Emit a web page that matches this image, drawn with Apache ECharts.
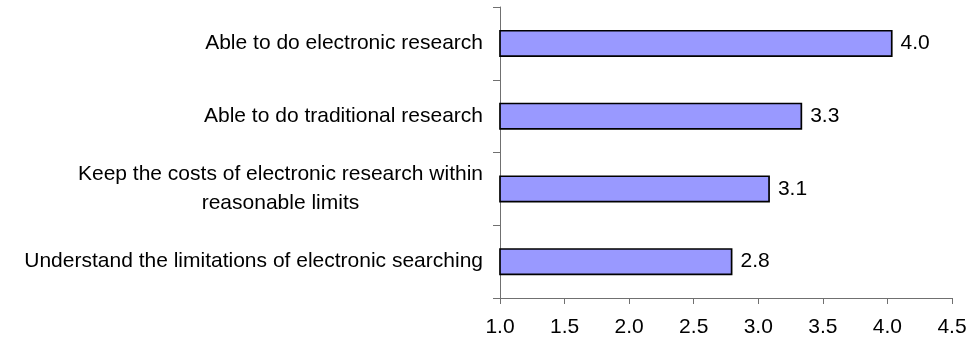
<!DOCTYPE html>
<html>
<head>
<meta charset="utf-8">
<script src="https://cdn.jsdelivr.net/npm/echarts@6/dist/echarts.min.js"></script>
<style>
  html, body { margin: 0; padding: 0; background: #fff; }
  #chart { width: 973px; height: 343px; }
</style>
</head>
<body>
<div id="chart"></div>
<script>
// Survey items, listed top to bottom
const categories = [
  'Able to do electronic research',
  'Able to do traditional research',
  'Keep the costs of electronic research within\nreasonable limits',
  'Understand the limitations of electronic searching'
];
// Mean ratings
const ratings = [4.04, 3.34, 3.09, 2.8];
// Rating scale ticks
const scaleMin = 1.0;
const scaleMax = 4.5;
const scaleStep = 0.5;

const FONT = '"Liberation Sans", Arial, sans-serif';
const SIZE = 21;

const chart = echarts.init(document.getElementById('chart'), null, { renderer: 'canvas' });
chart.setOption({
  animation: false,
  backgroundColor: '#ffffff',
  grid: { left: 500, right: 21, top: 7, bottom: 45, containLabel: false },
  xAxis: {
    type: 'value',
    min: scaleMin,
    max: scaleMax,
    interval: scaleStep,
    splitLine: { show: false },
    axisLine: { show: true, lineStyle: { color: '#707070', width: 1 } },
    axisTick: { show: true, inside: false, length: 6, lineStyle: { color: '#707070' } },
    axisLabel: {
      color: '#000', fontFamily: FONT, fontSize: SIZE, margin: 19,
      formatter: v => v.toFixed(1)
    }
  },
  yAxis: {
    type: 'category',
    data: categories,
    inverse: true,
    axisLine: { show: true, lineStyle: { color: '#707070', width: 1 } },
    axisTick: { show: true, inside: false, length: 7, lineStyle: { color: '#707070' } },
    axisLabel: {
      color: '#000', fontFamily: FONT, fontSize: SIZE, margin: 17, align: 'right',
      lineHeight: 29,
      formatter: v => v.split('\n').map(s => '{c|' + s + '}').join('\n'),
      rich: { c: { align: 'center', fontFamily: FONT, fontSize: SIZE, lineHeight: 29, color: '#000' } }
    }
  },
  series: [{
    type: 'bar',
    data: ratings,
    barWidth: 27,
    itemStyle: { color: '#9999FF', borderColor: '#000000', borderWidth: 1.7 },
    label: {
      show: true, position: 'right', distance: 8,
      color: '#000', fontFamily: FONT, fontSize: SIZE,
      formatter: p => p.value.toFixed(1)
    }
  }]
});
</script>
</body>
</html>
